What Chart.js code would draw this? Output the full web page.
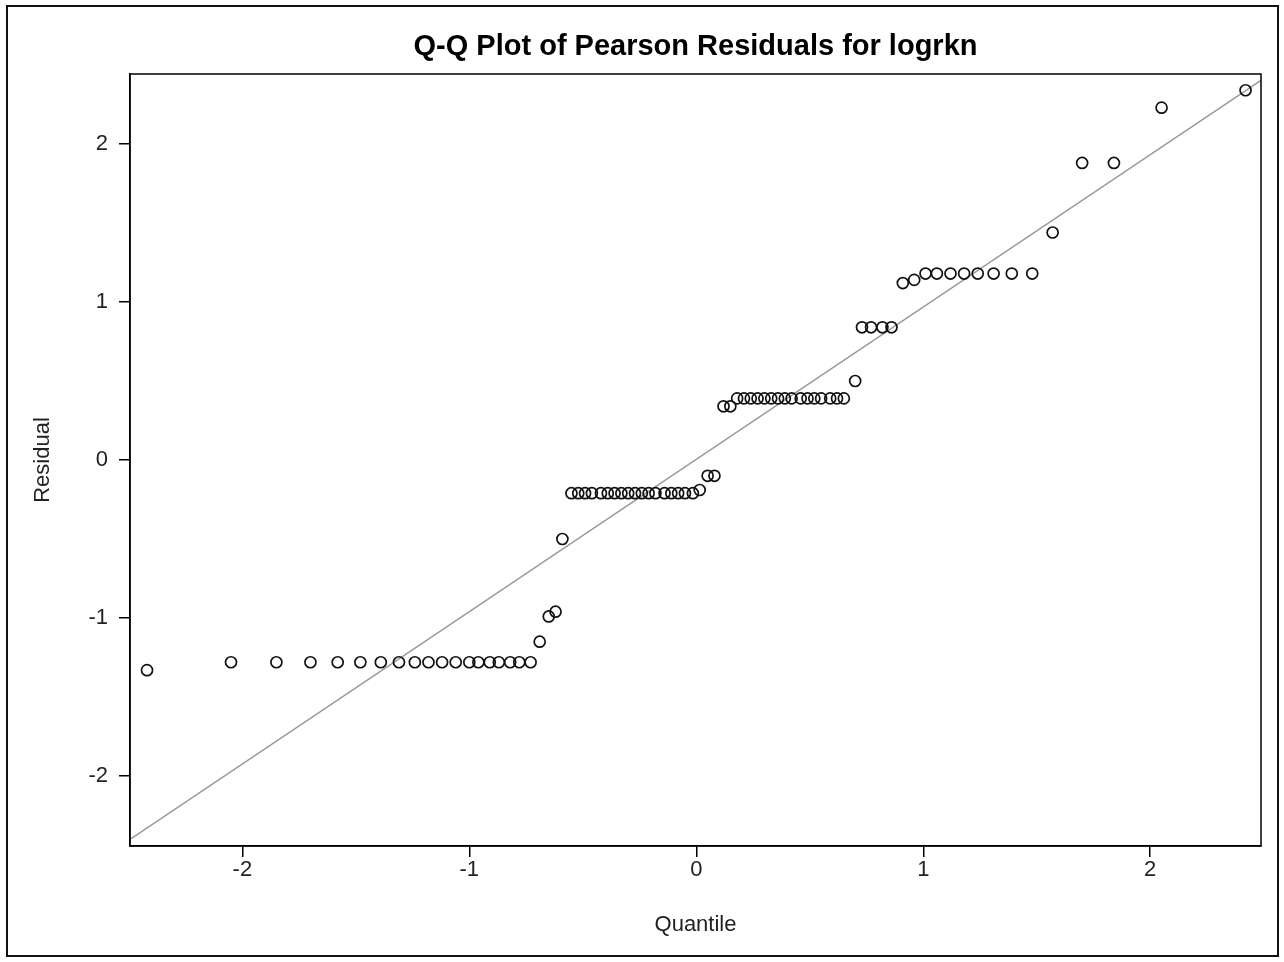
<!DOCTYPE html>
<html><head><meta charset="utf-8">
<script src="https://cdn.jsdelivr.net/npm/chart.js@4.4.0/dist/chart.umd.min.js"></script>
<style>html,body{margin:0;padding:0;background:#fff;} canvas{display:block;}</style>
</head><body>
<canvas id="c" width="1284" height="962"></canvas>
<script>
const chartTitle = "Q-Q Plot of Pearson Residuals for logrkn";
const xTitle = "Quantile";
const yTitle = "Residual";
const quantiles = [
 -2.42, -2.05, -1.85, -1.70, -1.58, -1.48, -1.39, -1.31, -1.24, -1.18,
 -1.12, -1.06, -1.00, -0.96, -0.91, -0.87, -0.82, -0.78, -0.73, -0.69,
 -0.65, -0.62, -0.59, -0.55, -0.52, -0.49, -0.46, -0.42, -0.39, -0.36,
 -0.33, -0.30, -0.27, -0.24, -0.21, -0.18, -0.14, -0.11, -0.08, -0.05,
 -0.015, 0.015, 0.05, 0.08, 0.12, 0.15, 0.18, 0.21, 0.24, 0.27,
 0.30, 0.33, 0.36, 0.39, 0.42, 0.46, 0.49, 0.52, 0.55, 0.59,
 0.62, 0.65, 0.70, 0.73, 0.77, 0.82, 0.86, 0.91, 0.96, 1.01,
 1.06, 1.12, 1.18, 1.24, 1.31, 1.39, 1.48, 1.57, 1.70, 1.84,
 2.05, 2.42
];
const residuals = [
 -1.33, -1.28, -1.28, -1.28, -1.28, -1.28, -1.28, -1.28, -1.28, -1.28,
 -1.28, -1.28, -1.28, -1.28, -1.28, -1.28, -1.28, -1.28, -1.28, -1.15,
 -0.99, -0.96, -0.50, -0.21, -0.21, -0.21, -0.21, -0.21, -0.21, -0.21,
 -0.21, -0.21, -0.21, -0.21, -0.21, -0.21, -0.21, -0.21, -0.21, -0.21,
 -0.21, -0.19, -0.10, -0.10, 0.34, 0.34, 0.39, 0.39, 0.39, 0.39,
 0.39, 0.39, 0.39, 0.39, 0.39, 0.39, 0.39, 0.39, 0.39, 0.39,
 0.39, 0.39, 0.50, 0.84, 0.84, 0.84, 0.84, 1.12, 1.14, 1.18,
 1.18, 1.18, 1.18, 1.18, 1.18, 1.18, 1.18, 1.44, 1.88, 1.88,
 2.23, 2.34
];
const xTicks = [-2, -1, 0, 1, 2];
const yTicks = [-2, -1, 0, 1, 2];
const xRange = [-2.495, 2.488];
const yRange = [-2.443, 2.443];
const refSlope = 0.964;
const refIntercept = 0.004;

const FONT = "'Liberation Sans', Arial, sans-serif";

const framePlugin = {
  id: 'frame',
  beforeDraw(chart) {
    const ctx = chart.ctx;
    ctx.save();
    ctx.fillStyle = '#fff';
    ctx.fillRect(0, 0, chart.width, chart.height);
    ctx.restore();
  },
  afterDraw(chart) {
    const ctx = chart.ctx;
    const a = chart.chartArea;
    ctx.save();
    ctx.strokeStyle = '#000';
    ctx.lineWidth = 1.5;
    ctx.strokeRect(a.left, a.top, a.right - a.left, a.bottom - a.top);
    ctx.lineWidth = 2;
    ctx.strokeStyle = '#111';
    ctx.strokeRect(7, 6, 1271, 950);
    ctx.restore();
  }
};

new Chart(document.getElementById('c'), {
  type: 'scatter',
  data: {
    datasets: [
      {
        type: 'line',
        data: xRange.map(x => ({x: x, y: refSlope * x + refIntercept})),
        borderColor: '#9a9a9a',
        borderWidth: 1.6,
        pointRadius: 0,
        fill: false,
        order: 2
      },
      {
        data: quantiles.map((q, i) => ({x: q, y: residuals[i]})),
        pointStyle: 'circle',
        pointRadius: 5.5,
        pointBorderWidth: 1.7,
        borderColor: '#111',
        backgroundColor: 'rgba(0,0,0,0)',
        pointBackgroundColor: 'rgba(0,0,0,0)',
        order: 1
      }
    ]
  },
  options: {
    responsive: false,
    animation: false,
    devicePixelRatio: 1,
    layout: { padding: { left: 0, right: 23, top: 0, bottom: 0 } },
    plugins: {
      legend: { display: false },
      tooltip: { enabled: false },
      title: {
        display: true,
        fullSize: false,
        text: chartTitle,
        color: '#000',
        font: { family: FONT, size: 29, weight: 'bold', lineHeight: 1.2 },
        padding: { top: 29.6, bottom: 9.6 }
      }
    },
    scales: {
      x: {
        type: 'linear',
        min: xRange[0], max: xRange[1],
        afterFit(s) { s.height = 962 - 846; },
        afterBuildTicks(s) { s.ticks = xTicks.map(v => ({value: v})); },
        grid: { display: true, drawOnChartArea: false, drawTicks: true, tickLength: 11, color: '#000', lineWidth: 1.5 },
        border: { display: true, color: '#000', width: 1.5 },
        ticks: { color: '#222', font: { family: FONT, size: 22 }, padding: 0, maxRotation: 0, callback: v => String(v) },
        title: { display: true, text: xTitle, color: '#222', font: { family: FONT, size: 22, lineHeight: 1.2 }, padding: { top: 0, bottom: 23.8 } }
      },
      y: {
        type: 'linear',
        min: yRange[0], max: yRange[1],
        afterFit(s) { s.width = 130; },
        afterBuildTicks(s) { s.ticks = yTicks.map(v => ({value: v})); },
        grid: { display: true, drawOnChartArea: false, drawTicks: true, tickLength: 11, color: '#000', lineWidth: 1.5 },
        border: { display: true, color: '#000', width: 1.5 },
        ticks: { color: '#222', font: { family: FONT, size: 22 }, padding: 11, callback: v => String(v) },
        title: { display: true, text: yTitle, color: '#222', font: { family: FONT, size: 22, lineHeight: 1.2 }, padding: { top: 30, bottom: 0 } }
      }
    }
  },
  plugins: [framePlugin]
});
</script>
</body></html>
